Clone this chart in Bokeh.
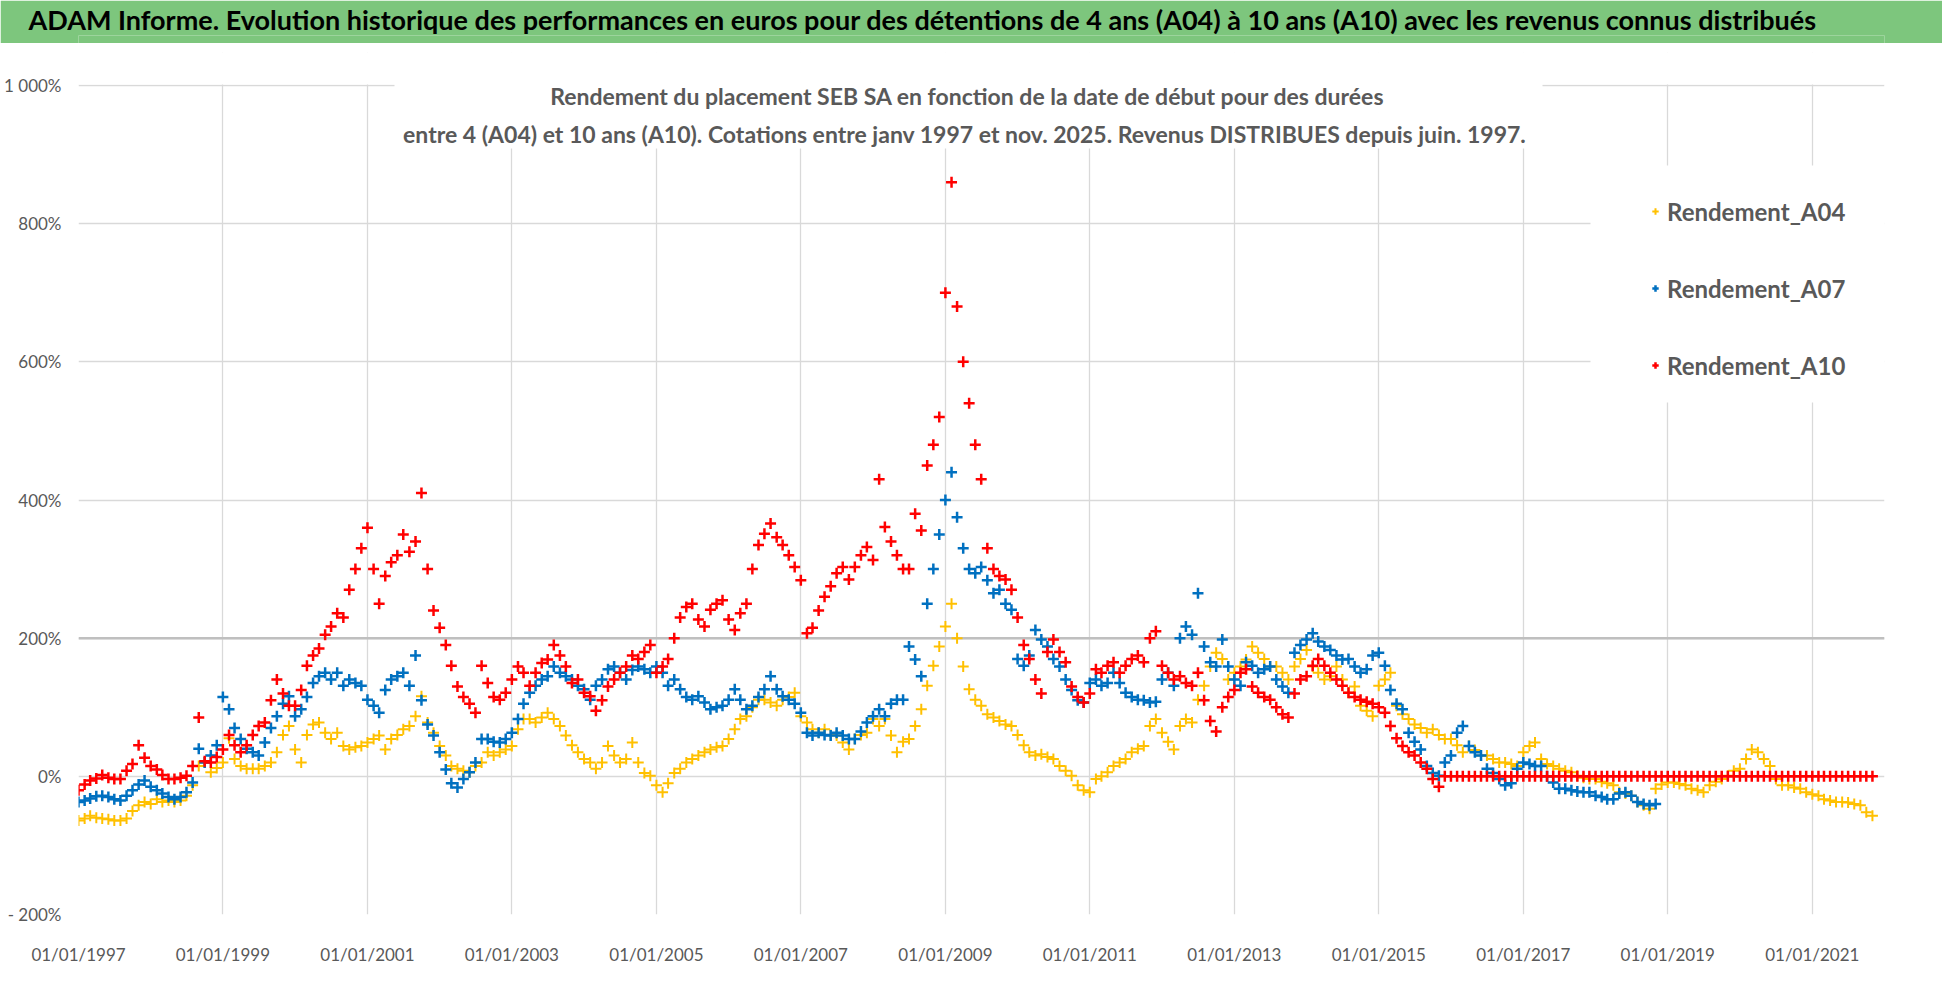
import pandas as pd
from bokeh.plotting import figure
from bokeh.layouts import column
from bokeh.models import (Range1d, FixedTicker, DatetimeTickFormatter, Label,
                          BoxAnnotation, Span, Legend, LegendItem)
from bokeh.embed import file_html
from bokeh.resources import INLINE

# ---------------- data (monthly, in %) ----------------
TITLE = ("ADAM Informe. Evolution historique des performances en euros pour des détentions "
         "de 4 ans (A04) à 10 ans (A10) avec les revenus connus distribués")
SUB1 = "Rendement du placement SEB SA en fonction de la date de début pour des durées"
SUB2 = ("entre 4 (A04) et 10 ans (A10).  Cotations entre janv 1997 et nov. 2025. "
        "Revenus DISTRIBUES depuis juin. 1997.")
SERIES_NAMES = ["Rendement_A04", "Rendement_A07", "Rendement_A10"]
START = "1997-01-01"

a04 = [
    -64, -61, -57, -60, -61, -62, -64, -64, -61, -50, -42, -37,   # 1997
    -40, -33, -37, -35, -37, -35, -28, -13, 15, 20, 6, 12,        # 1998
    20, 55, 25, 15, 11, 11, 11, 15, 20, 35, 60, 73,               # 1999
    39, 20, 60, 75, 78, 63, 54, 63, 44, 39, 42, 44,               # 2000
    49, 54, 59, 39, 54, 60, 68, 73, 87, 116, 78, 63,              # 2001
    44, 30, 15, 11, 8, 6, 15, 20, 35, 30, 35, 39,                 # 2002
    44, 68, 83, 83, 78, 85, 92, 83, 73, 59, 45, 35,               # 2003
    25, 20, 11, 20, 44, 30, 20, 25, 49, 20, 5, 1,                 # 2004
    -13, -23, -10, 5, 11, 20, 25, 30, 35, 39, 42, 44,             # 2005
    54, 68, 83, 87, 100, 111, 111, 107, 102, 111, 115, 121,       # 2006
    87, 78, 68, 63, 68, 60, 59, 49, 39, 54, 60, 63,               # 2007
    83, 73, 83, 59, 35, 50, 54, 73, 97, 131, 160, 188,            # 2008
    217, 250, 200, 159, 126, 111, 102, 90, 85, 80, 75, 73,        # 2009
    60, 45, 35, 30, 32, 28, 25, 15, 8, 1, -13, -20,               # 2010
    -23, -4, 0, 6, 15, 20, 25, 35, 40, 44, 73, 83,                # 2011
    63, 50, 39, 73, 83, 78, 111, 131, 159, 179, 170, 140,         # 2012
    150, 159, 169, 188, 179, 170, 159, 159, 150, 140, 159, 170,   # 2013
    183, 159, 150, 140, 145, 159, 140, 121, 130, 102, 95, 87,     # 2014
    131, 140, 150, 102, 90, 83, 75, 70, 63, 68, 60, 54,           # 2015
    54, 45, 35, 44, 38, 30, 30, 25, 20, 20, 18, 15,               # 2016
    35, 44, 49, 25, 18, 15, 11, 8, 6, 1, -2, -4,                  # 2017
    -4, -8, -10, -13, -23, -25, -28, -37, -42, -47, -18, -12,     # 2018
    -9, -9, -11, -13, -18, -20, -23, -13, -8, -4, 1, 8,           # 2019
    11, 25, 39, 35, 25, 15, -4, -13, -13, -16, -18, -23,          # 2020
    -26, -28, -33, -35, -37, -37, -38, -40, -42, -52, -57,        # 2021
]

a07 = [
    -37, -35, -32, -29, -28, -30, -33, -35, -28, -20, -12, -6,    # 1997
    -15, -20, -25, -30, -33, -30, -23, -9, 40, 20, 30, 45,        # 1998
    115, 97, 70, 54, 40, 35, 30, 49, 70, 87, 105, 116,            # 1999
    87, 97, 115, 135, 145, 150, 140, 150, 131, 140, 135, 131,     # 2000
    111, 102, 92, 125, 140, 145, 150, 131, 175, 110, 75, 59,      # 2001
    35, 10, -10, -16, -4, 6, 20, 54, 54, 50, 49, 54,              # 2002
    63, 83, 105, 121, 131, 140, 145, 159, 150, 145, 140, 131,     # 2003
    126, 111, 131, 140, 155, 159, 150, 140, 154, 159, 155, 150,   # 2004
    159, 150, 131, 140, 126, 115, 111, 116, 107, 97, 100, 102,    # 2005
    111, 126, 111, 97, 102, 115, 126, 145, 126, 116, 111, 105,    # 2006
    92, 63, 59, 63, 60, 59, 63, 59, 54, 54, 65, 78,               # 2007
    87, 97, 87, 105, 111, 111, 188, 169, 145, 250, 300, 350,      # 2008
    400, 440, 375, 330, 300, 294, 303, 284, 265, 270, 250, 241,   # 2009
    170, 160, 175, 212, 198, 188, 170, 159, 140, 125, 110, 107,   # 2010
    135, 140, 131, 135, 150, 135, 121, 115, 111, 110, 107, 108,   # 2011
    140, 150, 131, 200, 217, 205, 265, 188, 165, 159, 198, 159,   # 2012
    140, 131, 165, 160, 150, 155, 159, 140, 130, 121, 179, 190,   # 2013
    198, 207, 195, 188, 183, 175, 169, 170, 159, 150, 155, 175,   # 2014
    179, 160, 125, 105, 97, 63, 50, 39, 15, 5, 1, 20,             # 2015
    30, 63, 73, 44, 35, 30, 11, 5, -4, -13, -10, 11,              # 2016
    20, 18, 15, 15, 0, -9, -18, -18, -20, -22, -23, -23,          # 2017
    -28, -30, -33, -33, -25, -23, -28, -37, -40, -42, -40,        # 2018
]

a10 = [
    -20, -12, -6, -3, 2, -2, -4, -4, 8, 18, 45, 27,               # 1997
    15, 10, 2, -4, -4, -2, 1, 15, 85, 22, 20, 28,                 # 1998
    39, 60, 45, 35, 45, 60, 73, 78, 110, 140, 120, 102,           # 1999
    102, 125, 160, 175, 185, 205, 217, 236, 230, 270, 300, 330,   # 2000
    360, 300, 250, 290, 310, 320, 350, 325, 340, 410, 300, 240,   # 2001
    215, 190, 160, 130, 115, 105, 92, 160, 135, 115, 111, 121,    # 2002
    140, 159, 150, 131, 150, 164, 169, 190, 175, 159, 135, 140,   # 2003
    121, 116, 95, 110, 130, 140, 150, 159, 175, 170, 180, 190,    # 2004
    150, 159, 170, 200, 230, 245, 250, 227, 217, 241, 250, 255,   # 2005
    227, 212, 236, 250, 300, 335, 351, 366, 346, 335, 320, 303,   # 2006
    284, 207, 215, 240, 260, 275, 294, 303, 285, 303, 320, 332,   # 2007
    313, 430, 361, 340, 320, 300, 300, 380, 356, 450, 480, 520,   # 2008
    700, 860, 680, 600, 540, 480, 430, 330, 300, 290, 285, 270,   # 2009
    230, 190, 170, 140, 120, 180, 198, 180, 165, 130, 115, 107,   # 2010
    120, 155, 150, 160, 165, 150, 160, 170, 175, 165, 200, 210,   # 2011
    160, 150, 140, 145, 135, 131, 150, 110, 80, 65, 100, 115,     # 2012
    125, 150, 155, 130, 121, 115, 111, 100, 90, 85, 120, 140,     # 2013
    145, 160, 170, 160, 150, 140, 131, 121, 115, 111, 108, 105,   # 2014
    100, 92, 73, 55, 44, 35, 30, 20, 11, -4, -15, 0,              # 2015
    0, 0, 0, 0, 0, 0, 0, 0, 0, 0, 0, 0,                           # 2016
    0, 0, 0, 0, 0, 0, 0, 0, 0, 0, 0, 0,                           # 2017
    0, 0, 0, 0, 0, 0, 0, 0, 0, 0, 0, 0,                           # 2018
    0, 0, 0, 0, 0, 0, 0, 0, 0, 0, 0, 0,                           # 2019
    0, 0, 0, 0, 0, 0, 0, 0, 0, 0, 0, 0,                           # 2020
    0, 0, 0, 0, 0, 0, 0, 0, 0, 0, 0,                              # 2021
]

X_TICK_YEARS = [1997, 1999, 2001, 2003, 2005, 2007, 2009, 2011, 2013, 2015, 2017, 2019, 2021]
Y_TICKS = [-200, 0, 200, 400, 600, 800, 1000]
Y_TICK_LABELS = ["- 200%", "0%", "200%", "400%", "600%", "800%", "1 000%"]

# ---------------- style ----------------
FONT = "Lato"
GREEN = "#7DC67D"
GRAY_TXT = "#595959"
GRID = "#D9D9D9"
COLORS = ["#FFC000", "#0070C0", "#FF0000"]

W = 1942
BAR_H = 43
MAIN_H = 926
TOP_PX = 60          # reference y of the frame top (above the 1000% line)


def ms(ts):
    return pd.Timestamp(ts).value // 10**6


X0 = ms("1997-01-01")
X1 = ms("2022-01-01")


# reference-pixel helpers (1000% at y=93, -200% at y=922; x 86..1892)
def xpix(px):
    return X0 + (px - 86) / (1892 - 86) * (X1 - X0)


def ypix(py):
    return 1000 - (py - 93) * 1200 / (922 - 93)


# ---------------- title bar (green band, title drawn as the figure title) ----------------
bar = figure(width=W, height=BAR_H, x_range=Range1d(0, 1), y_range=Range1d(0, 1),
             toolbar_location=None, output_backend="svg", title=TITLE,
             x_axis_location=None, y_axis_location=None, min_border=0)
bar.background_fill_color = GREEN
bar.border_fill_color = GREEN
bar.outline_line_color = None
bar.xgrid.visible = False
bar.ygrid.visible = False
bar.title.text_font = FONT
bar.title.text_font_size = "27px"
bar.title.text_font_style = "bold"
bar.title.text_color = "#000000"
bar.title.align = "left"
bar.title.offset = 36 - 86
bar.title.standoff = 0

# ---------------- main chart ----------------
p = figure(width=W, height=MAIN_H, x_axis_type="datetime",
           x_range=Range1d(X0, X1), y_range=Range1d(-200, ypix(TOP_PX)),
           toolbar_location=None, output_backend="svg",
           min_border_left=78, min_border_right=58, min_border_top=TOP_PX - 51,
           min_border_bottom=55)
p.outline_line_color = None
p.background_fill_color = "white"
p.border_fill_color = "white"

p.xaxis.ticker = FixedTicker(ticks=[ms(f"{y}-01-01") for y in X_TICK_YEARS])
p.xaxis.formatter = DatetimeTickFormatter(years="%d/%m/%Y", months="%d/%m/%Y",
                                          days="%d/%m/%Y", hours="%d/%m/%Y")
p.yaxis.ticker = FixedTicker(ticks=Y_TICKS)
p.yaxis.major_label_overrides = dict(zip(Y_TICKS, Y_TICK_LABELS))

for ax in (p.xaxis, p.yaxis):
    ax.axis_line_color = None
    ax.major_tick_line_color = None
    ax.minor_tick_line_color = None
    ax.major_tick_in = 0
    ax.major_tick_out = 0
    ax.minor_tick_out = 0
    ax.major_label_text_font = FONT
    ax.major_label_text_font_size = "17px"
    ax.major_label_text_color = GRAY_TXT
p.xaxis.major_label_standoff = 29
p.yaxis.major_label_standoff = 17

p.xgrid.grid_line_color = GRID
p.ygrid.grid_line_color = GRID
p.xgrid.grid_line_width = 1.3
p.ygrid.grid_line_width = 1.3

p.add_layout(Span(location=200, dimension="width", line_color="#BFBFBF",
                  line_width=2.5, level="underlay"))

start = pd.Timestamp(START)
d04 = pd.date_range(start, periods=len(a04), freq="MS")
d07 = pd.date_range(start, periods=len(a07), freq="MS")
d10 = pd.date_range(start, periods=len(a10), freq="MS")

r04 = p.scatter(d04, a04, marker="cross", size=11, line_color=COLORS[0], line_width=2.0)
r07 = p.scatter(d07, a07, marker="cross", size=11, line_color=COLORS[1], line_width=2.5)
r10 = p.scatter(d10, a10, marker="cross", size=11, line_color=COLORS[2], line_width=2.5)

# white strip above the 1000% line (vertical gridlines stop there)
p.add_layout(BoxAnnotation(left=X0 - 10**10, right=X1 + 10**10, bottom=1001.6, top=1300,
                           fill_color="white", fill_alpha=1, line_color=None))
# white panels behind subtitle and legend
p.add_layout(BoxAnnotation(left=xpix(402), right=xpix(1550), bottom=ypix(156), top=1300,
                           fill_color="white", fill_alpha=1, line_color=None))
p.add_layout(BoxAnnotation(left=xpix(1598), right=xpix(1905), bottom=ypix(410), top=ypix(173),
                           fill_color="white", fill_alpha=1, line_color=None))

for txt, py in ((SUB1, 103), (SUB2, 141)):
    p.add_layout(Label(x=xpix(975), y=ypix(py), text=txt, text_align="center",
                       text_baseline="middle", text_font=FONT, text_font_size="23px",
                       text_font_style="bold", text_color=GRAY_TXT))

legend = Legend(items=[LegendItem(label=SERIES_NAMES[0], renderers=[r04]),
                       LegendItem(label=SERIES_NAMES[1], renderers=[r07]),
                       LegendItem(label=SERIES_NAMES[2], renderers=[r10])],
                location=(1569, 534), orientation="vertical",
                padding=20, spacing=47, margin=0, glyph_width=16, glyph_height=30,
                label_height=30, label_standoff=4, label_text_font=FONT,
                label_text_font_size="24px", label_text_font_style="bold",
                label_text_color=GRAY_TXT, background_fill_alpha=0, border_line_color=None)
p.add_layout(legend)

layout = column(bar, p, spacing=0)
open("out.html", "w").write(file_html(layout, INLINE))
